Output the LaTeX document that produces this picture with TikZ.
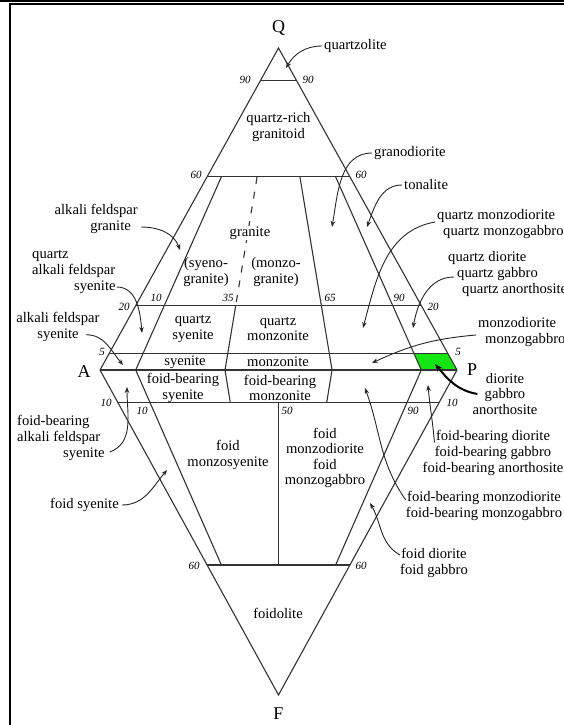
\documentclass[tikz,border=0pt]{standalone}
\usepackage{fontspec}
\setmainfont{Liberation Serif}
\usetikzlibrary{arrows.meta}
\definecolor{fieldgreen}{RGB}{20,230,20}

\begin{document}
\begin{tikzpicture}[x=1pt,y=1pt,
  edge/.style={draw=black!80,line width=1.1pt},
  rock/.style={font=\fontsize{14.6}{15.6}\selectfont,align=center,inner sep=0pt},
  num/.style={font=\fontsize{11}{12}\selectfont\itshape,inner sep=0pt},
  apex/.style={font=\fontsize{18}{18}\selectfont,inner sep=0pt},
  pointer/.style={draw=black!85,line width=0.9pt,-{Stealth[length=6pt,width=4.5pt]}}]
\useasboundingbox (0,0) rectangle (564,-725);

% frame
\fill (0,0) rectangle (564,-2.5);
\draw[line width=1.5pt] (9,-4.2) -- (564,-4.2);
\draw[line width=2.2pt] (10,-3.5) -- (10,-725);

% corners of the double triangle
\coordinate (Q) at (278.5,-48);
\coordinate (A) at (100,-370);
\coordinate (P) at (457,-370);
\coordinate (F) at (278.5,-695);

\fill[fieldgreen] (414.2,-353.9) -- (448.1,-353.9) -- (457,-370) -- (421.3,-370) -- cycle;

\draw[edge] (Q) -- (P) -- (F) -- (A) -- cycle;
\draw[edge] (A) -- (P);
% quartz lines
\draw[edge] (260.65,-80.2) -- (296.35,-80.2);
\draw[edge] (207.1,-176.8) -- (349.9,-176.8);
\draw[edge] (135.7,-305.6) -- (421.3,-305.6);
\draw[edge] (108.9,-353.9) -- (448.1,-353.9);
% foid lines
\draw[edge] (117.85,-402.5) -- (439.15,-402.5);
\draw[edge] (207.1,-565) -- (349.9,-565);
% P/(A+P) lines
\draw[edge] (221.4,-176.8) -- (135.7,-370) -- (221.4,-565);
\draw[edge,dash pattern=on 7pt off 8pt] (257.1,-176.8) -- (235.7,-305.6);
\draw[edge] (235.7,-305.6) -- (225,-370) -- (230.3,-402.5);
\draw[edge] (299.9,-176.8) -- (332.05,-370) -- (326.7,-402.5);
\draw[edge] (335.6,-176.8) -- (421.3,-370) -- (335.6,-565);
\draw[edge] (278.5,-402.5) -- (278.5,-565);

% numbers
\node[num] at (245,-80) {90};
\node[num] at (308,-80) {90};
\node[num] at (196,-175) {60};
\node[num] at (361,-175) {60};
\node[num] at (124,-307) {20};
\node[num] at (433,-307) {20};
\node[num] at (156,-298) {10};
\node[num] at (228,-298) {35};
\node[num] at (330,-298) {65};
\node[num] at (399,-298) {90};
\node[num] at (102,-352) {5};
\node[num] at (458,-352) {5};
\node[num] at (106,-403) {10};
\node[num] at (142,-411) {10};
\node[num] at (287,-411) {50};
\node[num] at (413,-411) {90};
\node[num] at (452,-403) {10};
\node[num] at (194,-566) {60};
\node[num] at (361,-566) {60};

\node[apex] (labQ) at (278.5,-28) {Q};
\node[apex] (labA) at (84,-372) {A};
\node[apex] (labP) at (472,-370) {P};
\node[apex] (labF) at (278.5,-714) {F};

% fields
\node[rock] (qrich) at (278.5,-127) {quartz-rich\\granitoid};
\node[rock,fill=white,inner sep=1pt] (granite) at (250,-233) {granite};
\node[rock] (syenogr) at (206,-272) {(syeno-\\granite)};
\node[rock] (monzogr) at (276,-272) {(monzo-\\granite)};
\node[rock] (qsyenite) at (193,-329) {quartz\\syenite};
\node[rock] (qmonzonite) at (278,-329) {quartz\\monzonite};
\node[rock] (syenite) at (185,-362) {syenite};
\node[rock] (monzonite) at (278,-362) {monzonite};
\node[rock] (fbsyenite) at (183,-388) {foid-bearing\\syenite};
\node[rock] (fbmonzonite) at (280,-388) {foid-bearing\\monzonite};
\node[rock] (fmonzosyenite) at (228,-455) {foid\\monzosyenite};
\node[rock] (fmonzodiorite) at (325,-458) {foid\\monzodiorite\\foid\\monzogabbro};
\node[rock] (foidolite) at (278,-613) {foidolite};

% names outside
\node[rock,anchor=west] (quartzolite) at (324,-46) {quartzolite};
\node[rock,anchor=west] (granodiorite) at (374,-153) {granodiorite};
\node[rock,anchor=west] (tonalite) at (404,-185) {tonalite};
\node[rock,align=left,anchor=west] (qmonzodiorite) at (437,-224) {quartz monzodiorite\\\hspace*{6pt}quartz monzogabbro};
\node[rock,align=left,anchor=west] (qdiorite) at (448,-274) {quartz diorite\\\hspace*{9pt}quartz gabbro\\\hspace*{14pt}quartz anorthosite};
\node[rock,align=left,anchor=west] (monzodiorite) at (478,-332) {monzodiorite\\\hspace*{7pt}monzogabbro};
\node[rock] (diorite) at (505,-394) {diorite\\gabbro\\anorthosite};
\node[rock] (fbdiorite) at (493,-453) {foid-bearing diorite\\foid-bearing gabbro\\foid-bearing anorthosite};
\node[rock] (fbmonzodiorite) at (484,-506) {foid-bearing monzodiorite\\foid-bearing monzogabbro};
\node[rock] (foiddiorite) at (434,-563) {foid diorite\\foid gabbro};
\node[rock,align=right,anchor=east] (afgranite) at (138,-219) {alkali feldspar\\granite\hspace*{7pt}};
\node[rock,align=left,anchor=west] (qafsyenite) at (32,-272) {quartz\\alkali feldspar\\\hspace*{42pt}syenite};
\node[rock] (afsyenite) at (58,-327) {alkali feldspar\\syenite};
\node[rock,align=left,anchor=west] (fbafsyenite) at (17,-438) {foid-bearing\\alkali feldspar\\\hspace*{46pt}syenite};
\node[rock,anchor=west] (foidsyenite) at (50,-505) {foid syenite};

% arrow tips
\coordinate (tip-qz) at (286,-68);
\coordinate (tip-gd) at (332,-227);
\coordinate (tip-ton) at (367,-227);
\coordinate (tip-qmd) at (363,-328);
\coordinate (tip-qd) at (413,-328);
\coordinate (tip-md) at (372,-363);
\coordinate (tip-di) at (435,-364);
\coordinate (tip-fbd) at (428,-385);
\coordinate (tip-fbmd) at (365,-388);
\coordinate (tip-fd) at (370,-503);
\coordinate (tip-afg) at (180,-250);
\coordinate (tip-qafs) at (142,-333);
\coordinate (tip-afs) at (123,-365);
\coordinate (tip-fbafs) at (127,-387);
\coordinate (tip-fs) at (167,-470);

\draw[pointer] ([xshift=-2pt]quartzolite.west) to[out=180,in=60] (tip-qz);
\draw[pointer] ([xshift=-2pt]granodiorite.west) to[out=180,in=80] (tip-gd);
\draw[pointer] ([xshift=-2pt]tonalite.west) to[out=180,in=70] (tip-ton);
\draw[pointer] ([xshift=-2pt,yshift=2pt]qmonzodiorite.west) to[out=190,in=75] (tip-qmd);
\draw[pointer] ([xshift=6pt,yshift=-3pt]qdiorite.west) to[out=180,in=80] (tip-qd);
\draw[pointer] ([xshift=-2pt,yshift=-3pt]monzodiorite.west) to[out=185,in=25] (tip-md);
\draw[line width=2pt,-{Stealth[length=8pt,width=6pt]}] ([xshift=5pt]diorite.west) to[out=170,in=-50] (tip-di);
\draw[pointer] ([xshift=12pt,yshift=-12pt]fbdiorite.north west) to[out=95,in=-85] (tip-fbd);
\draw[pointer] ([yshift=6pt]fbmonzodiorite.west) to[out=125,in=-70] (tip-fbmd);
\draw[pointer] ([yshift=8pt]foiddiorite.west) to[out=150,in=-60] (tip-fd);
\draw[pointer] ([xshift=3pt,yshift=-8pt]afgranite.east) to[out=0,in=110] (tip-afg);
\draw[pointer] ([xshift=1pt,yshift=-15pt]qafsyenite.east) to[out=0,in=95] (tip-qafs);
\draw[pointer] ([xshift=28pt,yshift=7pt]afsyenite.south) to[out=0,in=130] (tip-afs);
\draw[pointer] ([xshift=5pt,yshift=-14pt]fbafsyenite.east) to[out=20,in=-90] (tip-fbafs);
\draw[pointer] ([xshift=3pt]foidsyenite.east) to[out=0,in=-130] (tip-fs);
\end{tikzpicture}
\end{document}
